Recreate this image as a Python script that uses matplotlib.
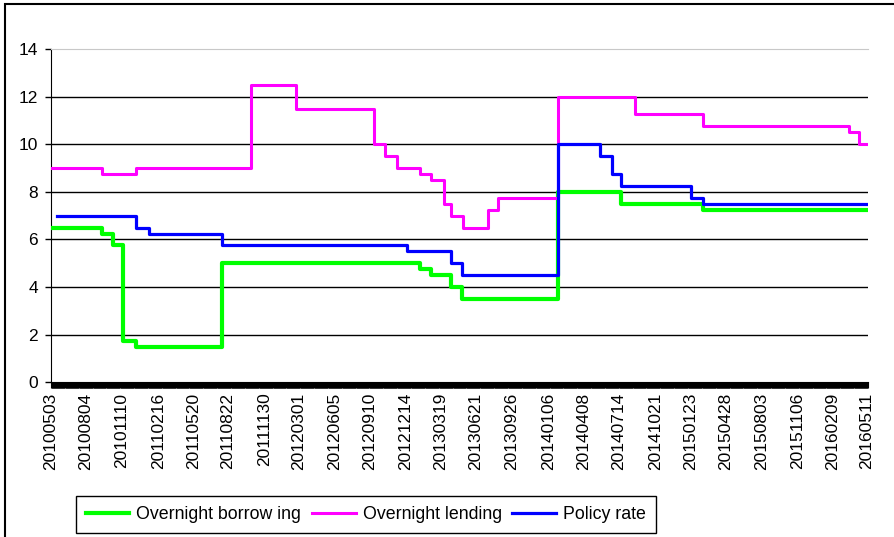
import numpy as np
import matplotlib.pyplot as plt
from matplotlib.patches import Rectangle
from matplotlib.ticker import FixedLocator

plt.rcParams['font.family'] = ['Liberation Sans', 'DejaVu Sans']

# category axis = business days between these two dates
start_date = '20100503'
end_date = '20160516'

tick_dates = ['20100503', '20100804', '20101110', '20110216', '20110520',
              '20110822', '20111130', '20120301', '20120605', '20120910',
              '20121214', '20130319', '20130621', '20130926', '20140106',
              '20140408', '20140714', '20141021', '20150123', '20150428',
              '20150803', '20151106', '20160209', '20160511']

# each rate holds from its date until the next change
borrow_dates = ['20100503', '20100916', '20101018', '20101112', '20101217',
                '20110805', '20130122', '20130220', '20130416', '20130516',
                '20140129', '20140717', '20150224']
borrow_rates = [6.5, 6.25, 5.75, 1.75, 1.5,
                5.0, 4.75, 4.5, 4.0, 3.5,
                8.0, 7.5, 7.25]

lend_dates = ['20100503', '20100916', '20101217', '20111024', '20120223',
              '20120920', '20121018', '20121121', '20130122', '20130220',
              '20130328', '20130417', '20130517', '20130724', '20130821',
              '20140129', '20140825', '20150224', '20160325', '20160421']
lend_rates = [9.0, 8.75, 9.0, 12.5, 11.5,
              10.0, 9.5, 9.0, 8.75, 8.5,
              7.5, 7.0, 6.5, 7.25, 7.75,
              12.0, 11.25, 10.75, 10.5, 10.0]

policy_dates = ['20100518', '20101217', '20110121', '20110805', '20121219',
                '20130416', '20130516', '20140129', '20140523', '20140624',
                '20140718', '20150122', '20150224']
policy_rates = [7.0, 6.5, 6.25, 5.75, 5.5,
                5.0, 4.5, 10.0, 9.5, 8.75,
                8.25, 7.75, 7.5]


def to_pos(dates):
    d = np.array([f'{s[:4]}-{s[4:6]}-{s[6:]}' for s in dates], dtype='datetime64[D]')
    s = np.datetime64(f'{start_date[:4]}-{start_date[4:6]}-{start_date[6:]}')
    return np.busday_count(s, d)


def step_xy(dates, rates):
    x = np.append(to_pos(dates), to_pos([end_date]))
    y = np.append(rates, rates[-1])
    return x, y


fig = plt.figure(figsize=(8.94, 5.37), dpi=100)
ax = fig.add_axes([51 / 894, 154.7 / 537, 817 / 894, 333.3 / 537])

x_end = to_pos([end_date])[0]

for yv in [2, 4, 6, 8, 10, 12]:
    ax.axhline(yv, color='black', lw=1.0, zorder=1)

bx, by = step_xy(borrow_dates, borrow_rates)
lx, ly = step_xy(lend_dates, lend_rates)
px, py = step_xy(policy_dates, policy_rates)
ax.plot(bx, by, drawstyle='steps-post', color='#00ff00', lw=3.0,
        label='Overnight borrow ing', zorder=3)
ax.plot(lx, ly, drawstyle='steps-post', color='#ff00ff', lw=2.2,
        label='Overnight lending', zorder=3)
ax.plot(px, py, drawstyle='steps-post', color='#0000ff', lw=2.3,
        label='Policy rate', zorder=4)

ax.set_xlim(0, x_end)
ax.set_ylim(0, 14)
ax.set_yticks(range(0, 15, 2))
ax.tick_params(axis='y', labelsize=12.5, length=4.5, width=1, pad=5)

ax.set_xticks(to_pos(tick_dates))
ax.set_xticklabels(tick_dates, rotation=90, fontsize=12.5)
ax.xaxis.set_minor_locator(FixedLocator(np.arange(0, x_end + 1)))
ax.tick_params(axis='x', which='major', length=4.5, width=0.8, pad=3)
ax.tick_params(axis='x', which='minor', length=4.5, width=0.8)

ax.spines['right'].set_visible(False)
ax.spines['top'].set_color('#c8c8c8')
ax.spines['left'].set_color('black')
ax.spines['bottom'].set_color('black')

fig.legend(loc='lower left', bbox_to_anchor=(76 / 894, 4 / 537), ncol=3,
           fontsize=12.8, frameon=True, fancybox=False, edgecolor='black',
           framealpha=1, handlelength=2.45, handletextpad=0.4,
           columnspacing=0.6, borderpad=0.55, borderaxespad=0)

# outer chart border (cropped on the right and bottom)
fig.add_artist(Rectangle((5 / 894, -0.5), 2, 1.5 - 4 / 537,
                         transform=fig.transFigure, fill=False,
                         edgecolor='black', lw=1.5, clip_on=False))

fig.savefig('out.png', dpi=100)
